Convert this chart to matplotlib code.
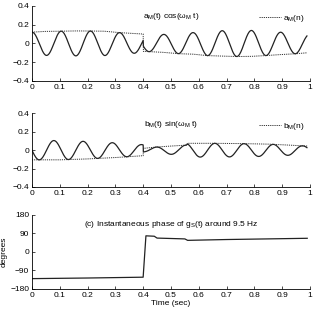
import numpy as np
import matplotlib
matplotlib.use("Agg")
import matplotlib.pyplot as plt

plt.rcParams['font.family'] = ['Liberation Sans', 'DejaVu Sans']
plt.rcParams['mathtext.fontset'] = 'custom'
plt.rcParams['mathtext.rm'] = 'Liberation Sans'
plt.rcParams['mathtext.it'] = 'Liberation Sans'
plt.rcParams['font.size'] = 6

# carrier frequency (Hz)
F_M = 9.5

# envelope a_M(n)
a_t = [0.0, 0.05, 0.1, 0.16, 0.21, 0.26, 0.315, 0.37, 0.4, 0.401, 0.47, 0.53, 0.58, 0.63, 0.68, 0.74, 0.79, 0.84, 0.89, 0.95, 0.99]
a_v = [0.12, 0.128, 0.13, 0.133, 0.132, 0.13, 0.115, 0.105, 0.1, -0.085, -0.095, -0.11, -0.115, -0.13, -0.135, -0.14, -0.138, -0.13, -0.12, -0.11, -0.10]

# envelope b_M(n)
b_t = [0.0, 0.1, 0.2, 0.3, 0.4, 0.401, 0.45, 0.5, 0.555, 0.56, 0.65, 0.75, 0.85, 0.92, 0.99]
b_v = [-0.105, -0.105, -0.095, -0.08, -0.06, 0.02, 0.035, 0.045, 0.055, 0.075, 0.075, 0.072, 0.066, 0.056, 0.045]

# instantaneous phase (degrees)
ph_t = [0.0, 0.2, 0.4, 0.41, 0.44, 0.45, 0.55, 0.56, 0.7, 0.99]
ph_v = [-130, -127, -123, 78, 76, 67, 63, 56, 60, 66]

xticks = [0, 0.1, 0.2, 0.3, 0.4, 0.5, 0.6, 0.7, 0.8, 0.9, 1]
xticklabels = ['0', '0.1', '0.2', '0.3', '0.4', '0.5', '0.6', '0.7', '0.8', '0.9', '1']

t = np.arange(0, 0.99, 0.001)
w = 2 * np.pi * F_M
sig_a = np.interp(t, a_t, a_v) * np.cos(w * t)
sig_b = np.interp(t, b_t, b_v) * np.sin(w * t)

fig = plt.figure(figsize=(3.16, 3.10), dpi=100)
ax1 = fig.add_axes([0.101, 0.739, 0.88, 0.242])
ax2 = fig.add_axes([0.101, 0.397, 0.88, 0.237])
ax3 = fig.add_axes([0.101, 0.068, 0.88, 0.239])

dot = (0, (1.2, 1.0))

def style(ax):
    for s in ['top', 'right']:
        ax.spines[s].set_visible(False)
    for s in ['left', 'bottom']:
        ax.spines[s].set_linewidth(0.6)
    ax.tick_params(direction='in', length=2, width=0.5, pad=2, labelsize=6)
    ax.set_xlim(0, 1)
    ax.set_xticks(xticks)
    ax.set_xticklabels(xticklabels)

ax1.plot(t, sig_a, color='#222222', lw=0.9)
ax1.plot(a_t, a_v, color='#333333', lw=0.7, ls=dot, label=r'a$_\mathrm{M}$(n)')
ax1.set_ylim(-0.4, 0.4)
ax1.set_yticks([-0.4, -0.2, 0, 0.2, 0.4])
ax1.set_yticklabels(['\u22120.4', '\u22120.2', '0', '0.2', '0.4'])
ax1.text(0.5, 0.93, r'a$_\mathrm{M}$(t) cos($\omega_\mathrm{M}$ t)', transform=ax1.transAxes,
         ha='center', va='top', fontsize=6)
ax1.legend(loc='upper right', frameon=False, fontsize=6, handlelength=2.6,
           handletextpad=0.3, borderaxespad=0.2, bbox_to_anchor=(1.0, 0.97))
style(ax1)

ax2.plot(t, sig_b, color='#222222', lw=0.9)
ax2.plot(b_t, b_v, color='#333333', lw=0.7, ls=dot, label=r'b$_\mathrm{M}$(n)')
ax2.set_ylim(-0.4, 0.4)
ax2.set_yticks([-0.4, -0.2, 0, 0.2, 0.4])
ax2.set_yticklabels(['\u22120.4', '\u22120.2', '0', '0.2', '0.4'])
ax2.text(0.5, 0.93, r'b$_\mathrm{M}$(t) sin($\omega_\mathrm{M}$ t)', transform=ax2.transAxes,
         ha='center', va='top', fontsize=6)
ax2.legend(loc='upper right', frameon=False, fontsize=6, handlelength=2.6,
           handletextpad=0.3, borderaxespad=0.2, bbox_to_anchor=(1.0, 0.97))
style(ax2)

ax3.plot(ph_t, ph_v, color='#222222', lw=0.9)
ax3.set_ylim(-180, 180)
ax3.set_yticks([-180, -90, 0, 90, 180])
ax3.set_yticklabels(['\u2212180', '\u221290', '0', '90', '180'])
ax3.text(0.5, 0.95, r'(c) Instantaneous phase of g$_\mathrm{S}$(t) around 9.5 Hz',
         transform=ax3.transAxes, ha='center', va='top', fontsize=6)
ax3.set_ylabel('degrees', fontsize=6, labelpad=2)
ax3.set_xlabel('Time (sec)', fontsize=6, labelpad=1)
style(ax3)

fig.savefig('out.png', dpi=100)
